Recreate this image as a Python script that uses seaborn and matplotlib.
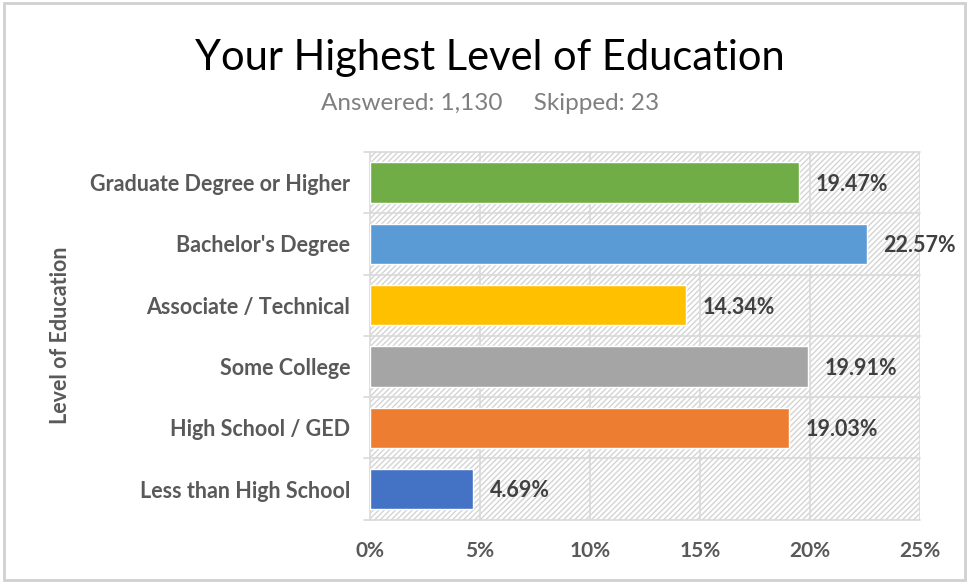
import matplotlib
matplotlib.use("Agg")
import matplotlib.pyplot as plt
from matplotlib.patches import Rectangle
import seaborn as sns
import pandas as pd

categories = ["Graduate Degree or Higher", "Bachelor's Degree", "Associate / Technical",
              "Some College", "High School / GED", "Less than High School"]
percent = [19.47, 22.57, 14.34, 19.91, 19.03, 4.69]
colors = ["#70AD47", "#5B9BD5", "#FFC000", "#A5A5A5", "#ED7D31", "#4472C4"]
xticks = [0, 5, 10, 15, 20, 25]

df = pd.DataFrame({"level": categories, "pct": percent})

sns.set_theme(style="white")
plt.rcParams["font.family"] = ["Lato", "DejaVu Sans"]
plt.rcParams["hatch.color"] = "#d4d4d4"
plt.rcParams["hatch.linewidth"] = 1.0

fig = plt.figure(figsize=(9.76, 5.82), dpi=100)
ax = fig.add_axes([0.379, 0.107, 0.564, 0.632])

# hatched plot background
ax.add_patch(Rectangle((0, 0), 1, 1, transform=ax.transAxes, facecolor="white",
                       edgecolor="#d4d4d4", hatch="//////", linewidth=0, zorder=0))

sns.barplot(data=df, x="pct", y="level", hue="level", palette=colors, legend=False,
            width=0.66, saturation=1, ax=ax, zorder=3)

ax.set_xlim(0, 25)
ax.set_ylim(len(categories) - 0.5, -0.5)
ax.set_xticks(xticks)
ax.set_xticklabels([f"{t}%" for t in xticks], fontsize=15, fontweight="bold", color="#595959")
ax.set_yticks(range(len(categories)))
ax.set_yticklabels(categories, fontsize=15.5, fontweight="bold", color="#595959")
ax.tick_params(axis="y", length=0, pad=14)
ax.tick_params(axis="x", length=0, pad=15)

# grid lines
for t in xticks[1:]:
    ax.axvline(t, color="#d9d9d9", linewidth=1.2, zorder=1)
for b in range(len(categories) + 1):
    ax.plot([-0.25, 25], [b - 0.5, b - 0.5], color="#d9d9d9", linewidth=1.2,
            zorder=1, clip_on=False)

for s in ["top", "right", "bottom"]:
    ax.spines[s].set_visible(False)
ax.spines["left"].set_color("#d9d9d9")
ax.spines["left"].set_linewidth(1.2)

for i, v in enumerate(percent):
    ax.text(v + 0.75, i + 0.03, f"{v:.2f}%", va="center", ha="left", fontsize=15.5,
            fontweight="bold", color="#404040", zorder=4)

ax.set_xlabel("")
ax.set_ylabel("")
fig.text(0.062, 0.424, "Level of Education", rotation=90, va="center", ha="center",
         fontsize=15.5, fontweight="bold", color="#595959")

fig.text(0.502, 0.9, "Your Highest Level of Education", ha="center", va="center",
         fontsize=30, color="black")
fig.text(0.502, 0.823, "Answered: 1,130     Skipped: 23", ha="center", va="center",
         fontsize=17.5, color="#7f7f7f")

# outer frame
fig.add_artist(Rectangle((0.004, 0.004), 0.985, 0.99, transform=fig.transFigure,
                         fill=False, edgecolor="#d0d0d0", linewidth=2))

fig.savefig("out.png", dpi=100)
